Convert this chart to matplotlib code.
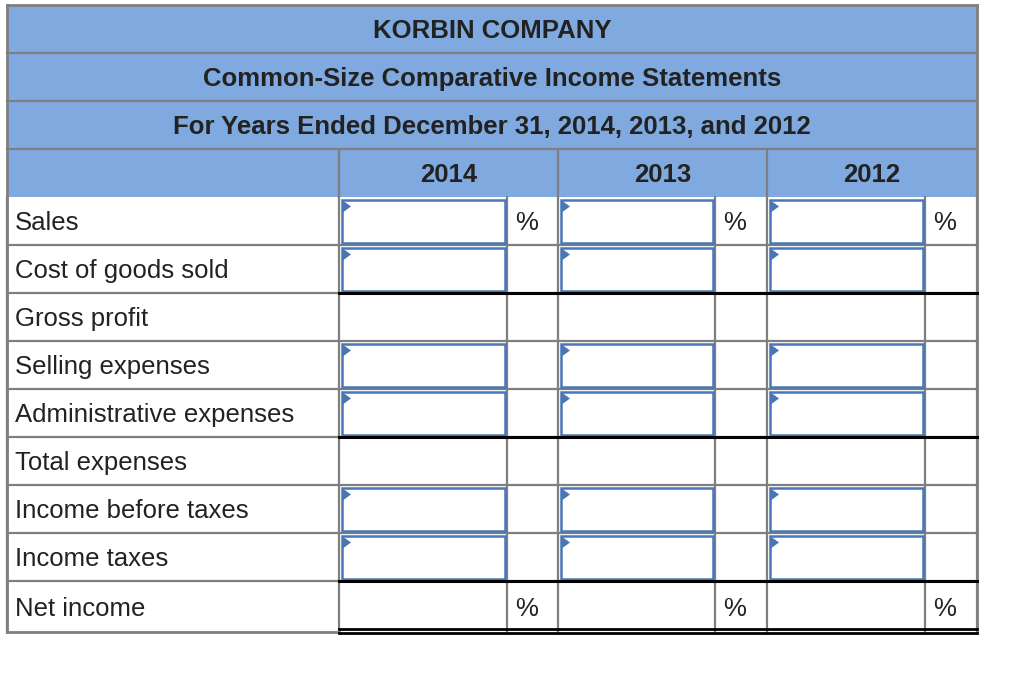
import matplotlib.pyplot as plt
from matplotlib.patches import Rectangle, Polygon

plt.rcParams["font.family"] = ["Liberation Sans", "DejaVu Sans"]

TITLE_LINES = [
    "KORBIN COMPANY",
    "Common-Size Comparative Income Statements",
    "For Years Ended December 31, 2014, 2013, and 2012",
]
YEARS = ["2014", "2013", "2012"]
ROW_LABELS = [
    "Sales",
    "Cost of goods sold",
    "Gross profit",
    "Selling expenses",
    "Administrative expenses",
    "Total expenses",
    "Income before taxes",
    "Income taxes",
    "Net income",
]
HAS_INPUT = [True, True, False, True, True, False, True, True, False]
HAS_PCT = [True, False, False, False, False, False, False, False, True]
# rows followed by a single black total rule
RULE_BELOW = [False, True, False, False, True, False, False, True, False]

HEADER_BLUE = "#80AADF"
GRID = "#7F7F7F"
INPUT_BLUE = "#4A76B8"
TEXT = "#222222"

# geometry (pixels)
LEFT, RIGHT, TOP = 7, 977, 5
ROW_H = 48
LAST_ROW_H = 51
COL_EDGES = [LEFT, 339, 507, 558, 715, 767, 925, RIGHT]
FS = 18.5
LW = 1.6
TXT_DY = 2  # nudge text down to sit like the reference

fig = plt.figure(figsize=(10.32, 6.8), dpi=100)
ax = fig.add_axes([0, 0, 1, 1])
ax.set_xlim(0, 1032)
ax.set_ylim(680, 0)
ax.axis("off")

# header band
n_head = len(TITLE_LINES) + 1
head_bottom = TOP + n_head * ROW_H
ax.add_patch(Rectangle((LEFT, TOP), RIGHT - LEFT, head_bottom - TOP,
                       facecolor=HEADER_BLUE, edgecolor="none", zorder=0))

for i, line in enumerate(TITLE_LINES):
    yc = TOP + ROW_H * (i + 0.5) + TXT_DY
    ax.text((LEFT + RIGHT) / 2, yc, line, ha="center", va="center",
            fontsize=FS, fontweight="bold", color=TEXT)
    ax.plot([LEFT, RIGHT], [TOP + ROW_H * (i + 1)] * 2, color=GRID, lw=LW, zorder=3)

year_y = TOP + ROW_H * (len(TITLE_LINES) + 0.5) + TXT_DY
for j, yr in enumerate(YEARS):
    x0 = COL_EDGES[1 + 2 * j]
    x1 = COL_EDGES[3 + 2 * j]
    ax.text((x0 + x1) / 2, year_y, yr, ha="center", va="center",
            fontsize=FS, fontweight="bold", color=TEXT)
    ax.plot([x0, x0], [TOP + ROW_H * len(TITLE_LINES), head_bottom],
            color=GRID, lw=LW, zorder=3)

# body rows
row_tops = []
y = head_bottom
for i in range(len(ROW_LABELS)):
    h = LAST_ROW_H if i == len(ROW_LABELS) - 1 else ROW_H
    row_tops.append((y, y + h))
    y += h
body_bottom = y

for i, label in enumerate(ROW_LABELS):
    y0, y1 = row_tops[i]
    yc = (y0 + y1) / 2 + TXT_DY
    ax.text(LEFT + 8, yc, label, ha="left", va="center", fontsize=FS, color=TEXT)

    for j in range(len(YEARS)):
        bx0 = COL_EDGES[1 + 2 * j]
        bx1 = COL_EDGES[2 + 2 * j]
        if HAS_INPUT[i]:
            ax.add_patch(Rectangle((bx0 + 2.5, y0 + 2.5), bx1 - bx0 - 5, y1 - y0 - 5,
                                   facecolor="white", edgecolor=INPUT_BLUE,
                                   lw=1.8, zorder=4))
            ax.add_patch(Polygon([(bx0 + 3, y0 + 3), (bx0 + 12, y0 + 9.5),
                                  (bx0 + 3, y0 + 16)], closed=True,
                                 facecolor=INPUT_BLUE, edgecolor="none", zorder=5))
        if HAS_PCT[i]:
            ax.text(bx1 + 8, yc, "%", ha="left", va="center", fontsize=FS, color=TEXT)

    # horizontal rule under the row
    if i < len(ROW_LABELS) - 1:
        ax.plot([LEFT, RIGHT], [y1, y1], color=GRID, lw=LW, zorder=3)
        if RULE_BELOW[i]:
            ax.plot([COL_EDGES[1], RIGHT], [y1, y1], color="black", lw=2.2, zorder=6)

# vertical grid lines in body
for x in COL_EDGES:
    ax.plot([x, x], [head_bottom, body_bottom], color=GRID, lw=LW, zorder=3)

# outer frame
ax.plot([LEFT, RIGHT], [TOP, TOP], color=GRID, lw=2, zorder=3)
ax.plot([LEFT, LEFT], [TOP, body_bottom], color=GRID, lw=2, zorder=3)
ax.plot([RIGHT, RIGHT], [TOP, body_bottom], color=GRID, lw=2, zorder=3)
ax.plot([LEFT, COL_EDGES[1]], [body_bottom, body_bottom], color=GRID, lw=2, zorder=3)

# double rule under net income
ax.plot([COL_EDGES[1], RIGHT], [body_bottom - 3, body_bottom - 3], color="black", lw=2, zorder=6)
ax.plot([COL_EDGES[1], RIGHT], [body_bottom + 0.5, body_bottom + 0.5], color="black", lw=2, zorder=6)

fig.savefig("out.png", dpi=100)
